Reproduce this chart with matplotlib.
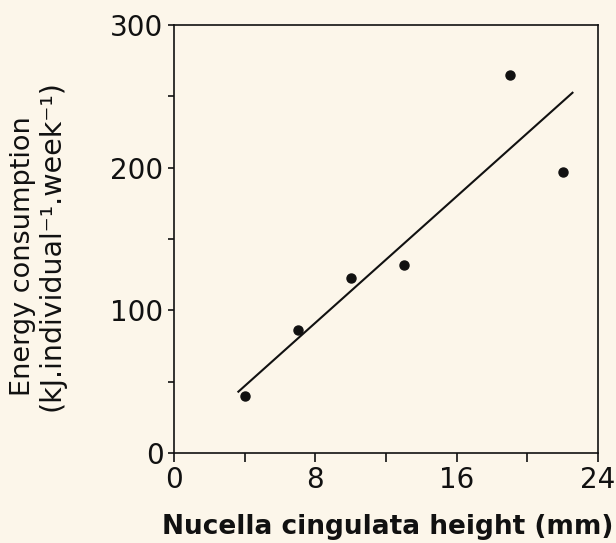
import matplotlib
matplotlib.use("Agg")
import matplotlib.pyplot as plt
from matplotlib.ticker import MultipleLocator

# snail height (mm) vs weekly energy consumption
height_mm = [4, 7, 10, 13, 19, 22]
energy_kj = [40, 86, 123, 132, 265, 197]

# fitted regression line, drawn between its two end points
fit_x = [3.6, 22.6]
fit_y = [42.5, 253]

x_ticks = [0, 8, 16, 24]
y_ticks = [0, 100, 200, 300]

ylabel_lines = ["Energy consumption", "(kJ.individual\u207b\u00b9.week\u207b\u00b9)"]
xlabel = "Nucella cingulata height (mm)"

bg = "#fcf6ea"
ink = "#111111"

plt.rcParams["font.family"] = ["DejaVu Sans"]

W, H = 616, 543
fig = plt.figure(figsize=(W / 100, H / 100), dpi=100, facecolor=bg)
ax = fig.add_axes([174 / W, 1 - 453 / H, (598 - 174) / W, (453 - 25) / H],
                  facecolor=bg)

ax.plot(fit_x, fit_y, color=ink, lw=1.5, solid_capstyle="butt")
ax.plot(height_mm, energy_kj, "o", color=ink, ms=6.5, mec=ink)

ax.set_xlim(0, 24)
ax.set_ylim(0, 300)
ax.set_xticks(x_ticks)
ax.set_yticks(y_ticks)
ax.xaxis.set_minor_locator(MultipleLocator(4))
ax.yaxis.set_minor_locator(MultipleLocator(50))

for s in ax.spines.values():
    s.set_linewidth(1.2)
    s.set_color(ink)

ax.tick_params(which="both", direction="out", color=ink, width=1.2,
               top=False, right=False)
ax.tick_params(axis="x", which="both", length=6.5)
ax.tick_params(axis="y", which="both", length=4.5)
ax.tick_params(which="major", labelsize=20, labelcolor=ink, pad=3)

fig.text(388 / W, 1 - 527 / H, xlabel, fontsize=19,
         fontweight="bold", color=ink, ha="center", va="center")
fig.text(23 / W, 1 - 256 / H, ylabel_lines[0], fontsize=19.5, color=ink,
         rotation=90, ha="center", va="center")
fig.text(52 / W, 1 - 246 / H, ylabel_lines[1], fontsize=20.5, color=ink,
         rotation=90, ha="center", va="center")

fig.savefig("out.png", dpi=100, facecolor=bg)
